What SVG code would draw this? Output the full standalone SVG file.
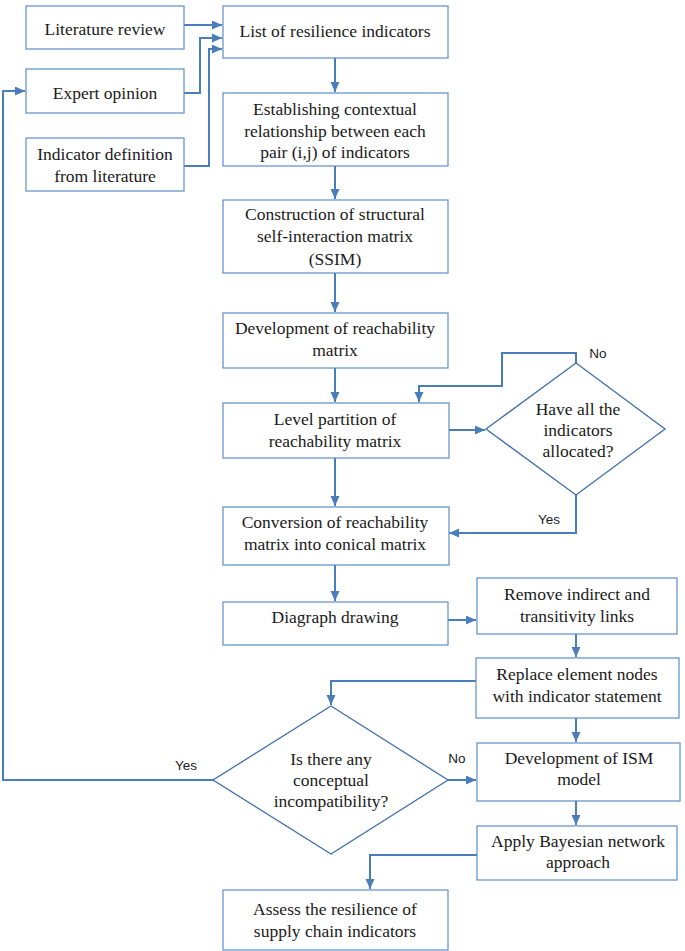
<svg xmlns="http://www.w3.org/2000/svg" width="685" height="951" viewBox="0 0 685 951">
<defs>
<marker id="arr" markerUnits="userSpaceOnUse" markerWidth="11" markerHeight="10" refX="10" refY="4.5" orient="auto">
<path d="M0,0 L10,4.5 L0,9 z" fill="#4a7ebb"/>
</marker>
<style>
.box{fill:#fff;stroke:#5b8ec9;stroke-width:1.2}
.dia{fill:#fff;stroke:#3f6fa8;stroke-width:1.3}
.t{font-family:"Liberation Serif","Times New Roman",serif;font-size:17.5px;fill:#1a1a1a;text-anchor:middle}
.lbl{font-family:"Liberation Sans",Arial,sans-serif;font-size:13.5px;fill:#1a1a1a;text-anchor:middle}
.c{fill:none;stroke:#4a7ebb;stroke-width:2;marker-end:url(#arr)}
</style>
</defs>
<rect width="685" height="951" fill="#fff"/>
<g id="connectors">
<path class="c" d="M184,25 H222"/>
<path class="c" d="M184,93 H200 V38 H222"/>
<path class="c" d="M184,166 H209 V49 H222"/>
<path class="c" d="M335,58 V92"/>
<path class="c" d="M335,166 V199"/>
<path class="c" d="M335,273 V312"/>
<path class="c" d="M335,368 V402"/>
<path class="c" d="M449,430 H485"/>
<path class="c" d="M576,363 V353 H502 V386 H419 V402"/>
<path class="c" d="M576,495 V533 H449"/>
<path class="c" d="M335,458 V506"/>
<path class="c" d="M335,565 V601"/>
<path class="c" d="M448,620 H476"/>
<path class="c" d="M576,634 V657"/>
<path class="c" d="M476,681 H331 V705"/>
<path class="c" d="M213,780 H3 V91 H25"/>
<path class="c" d="M448,780 H476"/>
<path class="c" d="M576,718 V742"/>
<path class="c" d="M576,801 V825"/>
<path class="c" d="M477,855 H370 V889"/>
<text class="lbl" x="598" y="358">No</text>
<text class="lbl" x="549" y="524">Yes</text>
<text class="lbl" x="186" y="770">Yes</text>
<text class="lbl" x="457" y="763">No</text>
</g>
<g id="n_lit"><rect class="box" x="26" y="6" width="158" height="43"/><text class="t" x="105" y="35">Literature review</text></g>
<g id="n_expert"><rect class="box" x="26" y="69" width="158" height="44"/><text class="t" x="105" y="99">Expert opinion</text></g>
<g id="n_def"><rect class="box" x="26" y="138" width="158" height="53"/><text class="t" x="105" y="160">Indicator definition</text><text class="t" x="105" y="182">from literature</text></g>
<g id="n_list"><rect class="box" x="223" y="6" width="225" height="52"/><text class="t" x="335" y="37">List of resilience indicators</text></g>
<g id="n_estab"><rect class="box" x="223" y="93" width="225" height="73"/><text class="t" x="335" y="115">Establishing contextual</text><text class="t" x="335" y="137">relationship between each</text><text class="t" x="335" y="158">pair (i,j) of indicators</text></g>
<g id="n_ssim"><rect class="box" x="223" y="200" width="225" height="73"/><text class="t" x="335" y="220">Construction of structural</text><text class="t" x="335" y="242">self-interaction matrix</text><text class="t" x="335" y="265">(SSIM)</text></g>
<g id="n_reach"><rect class="box" x="223" y="313" width="225" height="55"/><text class="t" x="335" y="334">Development of reachability</text><text class="t" x="335" y="356">matrix</text></g>
<g id="n_level"><rect class="box" x="223" y="403" width="226" height="55"/><text class="t" x="335" y="425">Level partition of</text><text class="t" x="335" y="447">reachability matrix</text></g>
<g id="n_alloc"><polygon class="dia" points="576,363 665,429 576,495 486,429"/><text class="t" x="578" y="415">Have all the</text><text class="t" x="578" y="436">indicators</text><text class="t" x="578" y="457">allocated?</text></g>
<g id="n_conv"><rect class="box" x="223" y="507" width="226" height="58"/><text class="t" x="335" y="528">Conversion of reachability</text><text class="t" x="335" y="550">matrix into conical matrix</text></g>
<g id="n_diag"><rect class="box" x="223" y="602" width="225" height="43"/><text class="t" x="335" y="623">Diagraph drawing</text></g>
<g id="n_remove"><rect class="box" x="477" y="578" width="200" height="56"/><text class="t" x="577" y="600">Remove indirect and</text><text class="t" x="577" y="622">transitivity links</text></g>
<g id="n_replace"><rect class="box" x="476" y="658" width="203" height="60"/><text class="t" x="577" y="680">Replace element nodes</text><text class="t" x="577" y="702">with indicator statement</text></g>
<g id="n_incomp"><polygon class="dia" points="331,706 448,780 331,854 213,780"/><text class="t" x="331" y="765">Is there any</text><text class="t" x="331" y="786">conceptual</text><text class="t" x="331" y="807">incompatibility?</text></g>
<g id="n_ism"><rect class="box" x="477" y="743" width="203" height="58"/><text class="t" x="579" y="764">Development of ISM</text><text class="t" x="579" y="785">model</text></g>
<g id="n_bayes"><rect class="box" x="477" y="826" width="200" height="54"/><text class="t" x="578" y="847">Apply Bayesian network</text><text class="t" x="578" y="868">approach</text></g>
<g id="n_assess"><rect class="box" x="223" y="890" width="225" height="60"/><text class="t" x="335" y="915">Assess the resilience of</text><text class="t" x="335" y="937">supply chain indicators</text></g>
</svg>
